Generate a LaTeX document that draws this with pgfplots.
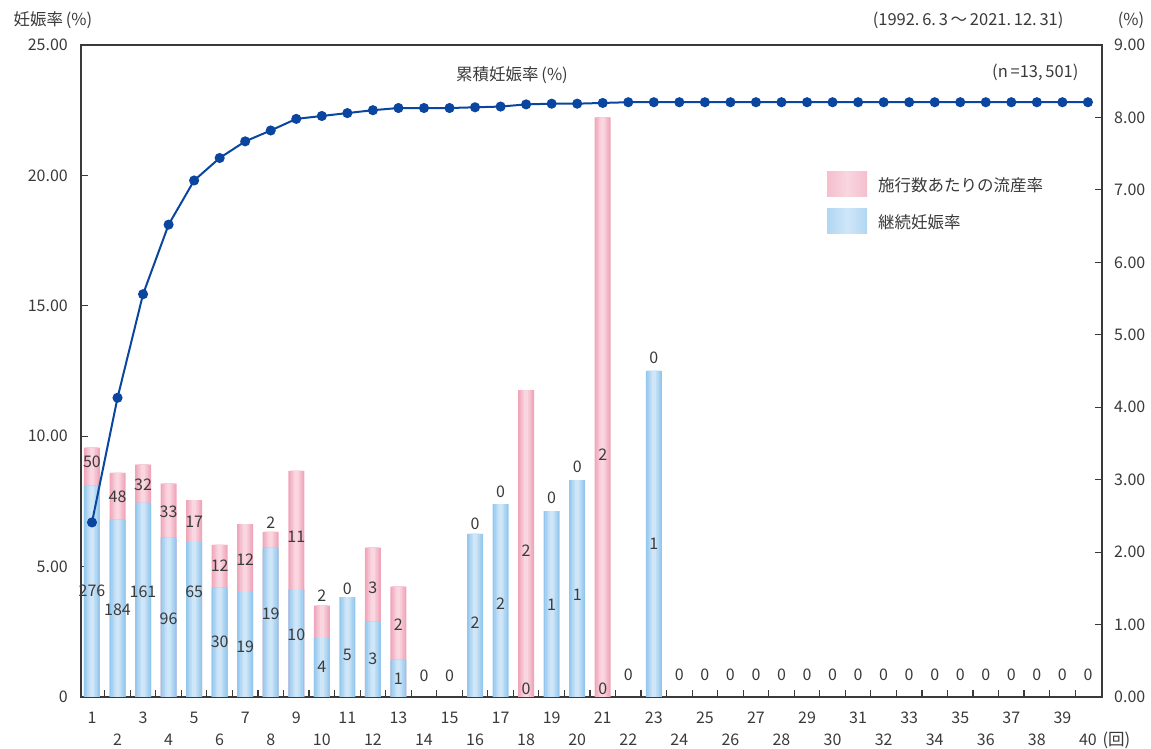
\documentclass[border=0pt]{standalone}
\usepackage{pgfplots}
\usepackage{pgfplotstable}
\pgfplotsset{compat=1.18}
\usepackage{fontspec}
\setmainfont{Noto Sans CJK JP}

\definecolor{txt}{HTML}{3A3A3A}
\definecolor{frame}{HTML}{3A3A3A}
\definecolor{pinkE}{HTML}{F0A6BA}
\definecolor{pinkC}{HTML}{F9D6E0}
\definecolor{blueE}{HTML}{94C7ED}
\definecolor{blueC}{HTML}{CFE6F8}
\definecolor{cum}{HTML}{0A46A0}

\pgfdeclarehorizontalshading{pinkbar}{100bp}{color(0bp)=(pinkE); color(50bp)=(pinkC); color(100bp)=(pinkE)}
\pgfdeclarehorizontalshading{bluebar}{100bp}{color(0bp)=(blueE); color(50bp)=(blueC); color(100bp)=(blueE)}

\tikzset{lbl/.style={font=\fontsize{16.5}{19}\selectfont, text=txt}}

% top of the pink segment = continuing + miscarriage rate (%)
\pgfplotstableread{
n tot
1 9.56
2 8.59
3 8.91
4 8.18
5 7.55
6 5.83
7 6.63
8 6.33
9 8.67
10 3.50
12 5.73
13 4.23
18 11.77
21 22.22
}\pinktab

% continuing pregnancy rate (%)
\pgfplotstableread{
n cont
1 8.10
2 6.80
3 7.44
4 6.11
5 5.98
6 4.19
7 4.06
8 5.73
9 4.14
10 2.30
11 3.83
12 2.89
13 1.43
16 6.25
17 7.40
19 7.13
20 8.32
23 12.50
}\bluetab

\pgfplotsset{
  base/.style={
    scale only axis, width=1021pt, height=652pt,
    at={(0pt,0pt)}, anchor=south west,
    xmin=0.57, xmax=40.55,
    tick label style={font=\fontsize{16}{19}\selectfont, text=txt},
    /pgf/number format/assume math mode=true,
  },
  bar/.style={ybar, bar shift=0pt, draw=none, bar width=#1},
}

\begin{document}
\begin{tikzpicture}
\useasboundingbox (-81pt,-52pt) rectangle (1070pt,697pt);

% bars (left axis)
\begin{axis}[base,
  ymin=0, ymax=25,
  axis line style={frame, line width=1.2pt},
  xtick={1.5,2.5,...,39.5}, xticklabels={}, xtick pos=left,
  ytick={0,5,...,25}, yticklabels={0,5.00,10.00,15.00,20.00,25.00}, ytick pos=left,
  tick align=inside, major tick length=7pt,
  tick style={frame, line width=1.2pt},
  yticklabel style={inner sep=0pt, xshift=-13pt, anchor=east},
  legend style={at={(0.7307,0.8067)}, anchor=north west, draw=none, fill=none,
    inner sep=0pt, row sep=12pt, column sep=9pt,
    font=\fontsize{16.5}{19}\selectfont, text=txt, cells={anchor=west}},
]
% pink bars, layered to give a lighter centre
\addplot[bar=16pt, fill=pinkE,
  legend image code/.code={\path[shade, shading=pinkbar] (0pt,-11pt) rectangle (40pt,14pt);}]
  table[x=n, y=tot] {\pinktab};
\addlegendentry{施行数あたりの流産率}
\addplot[bar=13pt, fill=pinkE!75!pinkC, forget plot] table[x=n, y=tot] {\pinktab};
\addplot[bar=10pt, fill=pinkE!50!pinkC, forget plot] table[x=n, y=tot] {\pinktab};
\addplot[bar=7pt, fill=pinkE!25!pinkC, forget plot] table[x=n, y=tot] {\pinktab};
\addplot[bar=4pt, fill=pinkC, forget plot] table[x=n, y=tot] {\pinktab};
% blue bars
\addplot[bar=16pt, fill=blueE,
  legend image code/.code={\path[shade, shading=bluebar] (0pt,-11pt) rectangle (40pt,14pt);}]
  table[x=n, y=cont] {\bluetab};
\addlegendentry{継続妊娠率}
\addplot[bar=13pt, fill=blueE!75!blueC, forget plot] table[x=n, y=cont] {\bluetab};
\addplot[bar=10pt, fill=blueE!50!blueC, forget plot] table[x=n, y=cont] {\bluetab};
\addplot[bar=7pt, fill=blueE!25!blueC, forget plot] table[x=n, y=cont] {\bluetab};
\addplot[bar=4pt, fill=blueC, forget plot] table[x=n, y=cont] {\bluetab};
\end{axis}

% cumulative pregnancy rate (right axis)
\begin{axis}[base,
  ymin=0, ymax=9,
  axis x line=none, axis y line*=right,
  axis line style={frame, line width=1.2pt},
  ytick={0,1,...,9},
  yticklabels={0.00,1.00,2.00,3.00,4.00,5.00,6.00,7.00,8.00,9.00},
  tick align=inside, major tick length=7pt,
  tick style={frame, line width=1.2pt},
  yticklabel style={inner sep=0pt, xshift=12pt, anchor=west},
]
\addplot[cum, line width=2pt, mark=*, mark size=4pt, mark options={solid, fill=cum}]
  coordinates {(1,2.41) (2,4.13) (3,5.56) (4,6.52) (5,7.13) (6,7.44) (7,7.67)
    (8,7.82) (9,7.98) (10,8.02) (11,8.06) (12,8.10) (13,8.13) (14,8.13)
    (15,8.13) (16,8.14) (17,8.15) (18,8.18) (19,8.19) (20,8.19) (21,8.20)
    (22,8.21) (23,8.21) (24,8.21) (25,8.21) (26,8.21) (27,8.21) (28,8.21)
    (29,8.21) (30,8.21) (31,8.21) (32,8.21) (33,8.21) (34,8.21) (35,8.21)
    (36,8.21) (37,8.21) (38,8.21) (39,8.21) (40,8.21)};
\end{axis}

% count labels and x tick labels
\begin{axis}[base,
  ymin=0, ymax=25, clip=false,
  axis line style={draw=none}, tick style={draw=none}, major tick length=0pt,
  ytick=\empty,
  xtick={1,3,...,39}, extra x ticks={2,4,...,40},
  xticklabel style={inner sep=0pt, yshift=-15pt, anchor=north},
  extra x tick style={xticklabel style={yshift=-22pt}},
]
\addplot[draw=none, mark=none, point meta=explicit symbolic, nodes near coords,
  every node near coord/.append style={inner sep=0pt, text=txt, font=\fontsize{16}{19}\selectfont}]
  table[meta=lab] {
x y lab
1 3.82 276
2 3.10 184
3 3.80 161
4 2.78 96
5 3.80 65
6 1.88 30
7 1.69 19
8 2.97 19
9 2.14 10
10 0.92 4
11 1.40 5
12 1.24 3
13 0.48 1
14 0.58 0
15 0.58 0
16 2.61 2
17 3.35 2
18 0.09 0
19 3.29 1
20 3.71 1
21 0.09 0
22 0.63 0
23 5.63 1
24 0.63 0
25 0.63 0
26 0.63 0
27 0.63 0
28 0.63 0
29 0.63 0
30 0.63 0
31 0.63 0
32 0.63 0
33 0.63 0
34 0.63 0
35 0.63 0
36 0.63 0
37 0.63 0
38 0.63 0
39 0.63 0
40 0.63 0
1 8.78 50
2 7.44 48
3 7.91 32
4 6.87 33
5 6.48 17
6 4.79 12
7 5.05 12
8 6.44 2
9 5.93 11
10 3.64 2
11 3.90 0
12 3.95 3
13 2.55 2
16 6.42 0
17 7.63 0
18 5.37 2
19 7.42 0
20 8.59 0
21 9.07 2
23 12.78 0
};
\end{axis}

\node[lbl, anchor=west] at (-71pt,677pt) {妊娠率\,(\%)};
\node[lbl, anchor=east] at (986pt,677pt) {(1992.\,6.\,3\,～\,2021.\,12.\,31)};
\node[lbl] at (1050pt,677pt) {(\%)};
\node[lbl] at (431pt,622pt) {累積妊娠率\,(\%)};
\node[lbl, anchor=east] at (1001pt,625pt) {(n\,=13,\,501)};
\node[lbl, anchor=west] at (1018pt,-43pt) {(回)};
\end{tikzpicture}
\end{document}
